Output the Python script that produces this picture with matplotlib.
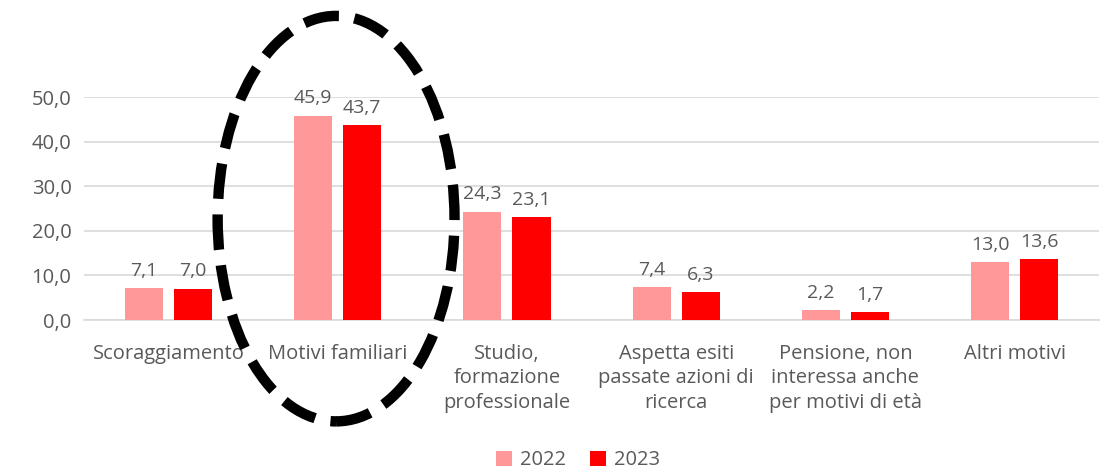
import numpy as np
import matplotlib.pyplot as plt
from matplotlib.patches import Ellipse
from matplotlib.transforms import blended_transform_factory

plt.rcParams['font.family'] = ['Open Sans', 'DejaVu Sans']

# dati
categorie = ['Scoraggiamento', 'Motivi familiari', 'Studio,\nformazione\nprofessionale',
             'Aspetta esiti\npassate azioni di\nricerca', 'Pensione, non\ninteressa anche\nper motivi di età',
             'Altri motivi']
anni = ['2022', '2023']
valori_2022 = [7.1, 45.9, 24.3, 7.4, 2.2, 13.0]
valori_2023 = [7.0, 43.7, 23.1, 6.3, 1.7, 13.6]
y_ticks = [0, 10, 20, 30, 40, 50]

colori = ['#FF9999', '#FF0000']
grigio = '#595959'

fig = plt.figure(figsize=(11.12, 4.72), dpi=100)
ax = fig.add_axes([0.0755, 0.322, 0.913, 0.472])

x = np.arange(len(categorie))
w = 0.225
off = 0.145
for serie, nome, col, d in zip([valori_2022, valori_2023], anni, colori, [-off, off]):
    bars = ax.bar(x + d, serie, width=w, color=col, label=nome, zorder=3)
    for b, v in zip(bars, serie):
        ax.annotate(f'{v:.1f}'.replace('.', ','), (b.get_x() + b.get_width() / 2, v),
                    xytext=(0, 6), textcoords='offset points', ha='center', va='bottom',
                    fontsize=14, color=grigio)

ax.set_xlim(-0.5, len(categorie) - 0.5)
ax.set_ylim(0, 50)
ax.set_yticks(y_ticks)
ax.set_yticklabels([f'{t:.1f}'.replace('.', ',') for t in y_ticks])
ax.set_xticks(x)
ax.set_xticklabels(categorie, linespacing=1.3)
ax.tick_params(axis='both', length=0, labelsize=14.5, labelcolor=grigio)
ax.tick_params(axis='x', pad=17)
ax.tick_params(axis='y', pad=9)
for s in ['top', 'right', 'left']:
    ax.spines[s].set_visible(False)
ax.spines['bottom'].set_color('#D9D9D9')
ax.spines['bottom'].set_linewidth(1.2)
ax.yaxis.grid(True, color='#D9D9D9', linewidth=1.2, zorder=0)
ax.set_axisbelow(True)

# ellisse tratteggiata attorno a "Motivi familiari"
trans = blended_transform_factory(ax.transData, ax.transAxes)
ell = Ellipse((0.99, 0.455), width=1.40, height=1.82, transform=trans, fill=False,
              edgecolor='black', linewidth=7.5, linestyle=(0, (3.4, 1.5)), clip_on=False, zorder=5)
ax.add_patch(ell)

fig.legend(loc='lower center', bbox_to_anchor=(0.52, -0.035), ncol=2, frameon=False,
           fontsize=14.5, labelcolor=grigio, handlelength=0.8, handleheight=0.8,
           handletextpad=0.4, columnspacing=1.2)

plt.savefig('out.png', dpi=100)
